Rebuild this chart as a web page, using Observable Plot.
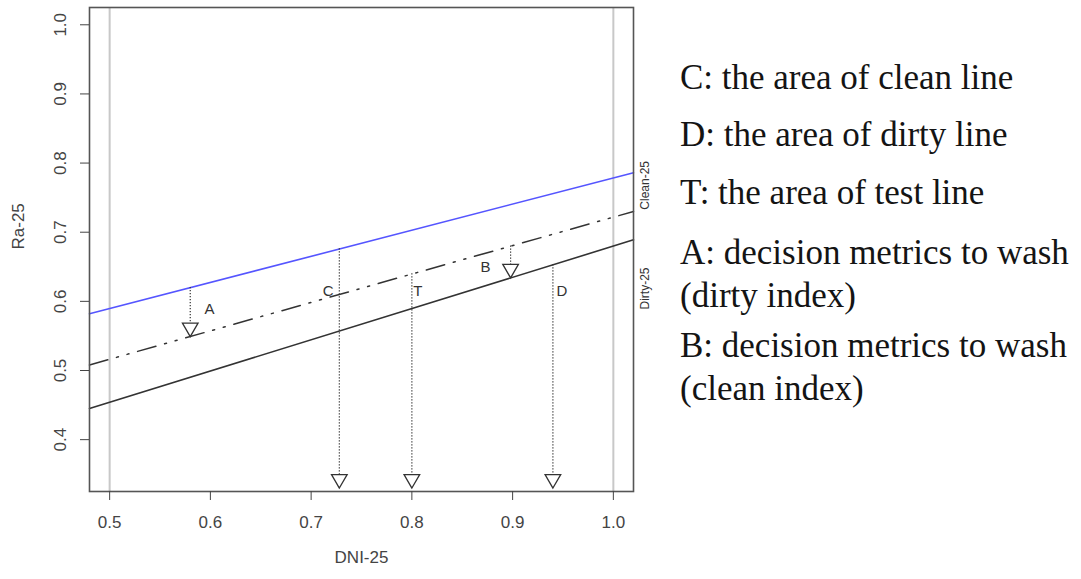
<!DOCTYPE html>
<html>
<head>
<meta charset="utf-8">
<script src="https://cdn.jsdelivr.net/npm/d3@7"></script>
<script src="https://cdn.jsdelivr.net/npm/@observablehq/plot@0.6"></script>
<style>
  html, body { margin: 0; padding: 0; background: #fff; }
  #wrap { position: relative; width: 1081px; height: 579px; overflow: hidden; }
  #chart { position: absolute; left: 0; top: 0; }
  #notes { position: absolute; left: 680px; top: 0; font-family: "Liberation Serif", "Times New Roman", serif;
           font-size: 35px; line-height: 43px; color: #141414; white-space: nowrap; }
  #notes div { position: absolute; left: 0; }
</style>
</head>
<body>
<div id="wrap">
  <div id="chart"></div>
  <div id="notes"></div>
</div>
<script>
// Axis ticks
const xTicks = [0.5, 0.6, 0.7, 0.8, 0.9, 1.0];
const yTicks = [0.4, 0.5, 0.6, 0.7, 0.8, 0.9, 1.0];

// Reference lines (values at both ends of the DNI range)
const lineX = [0.48, 1.02];
const cleanY = [0.582, 0.786];
const testY = [0.508, 0.730];
const dirtyY = [0.445, 0.689];

// Light vertical guides
const guideX = [0.5, 1.0];

// Dotted arrows: where each starts and where it ends
const arrowNames = ["A", "C", "T", "B", "D"];
const arrowX = [0.58, 0.728, 0.8, 0.898, 0.94];
const arrowFrom = [0.620, 0.676, 0.640, 0.680, 0.653];
const arrowTo = [0.549, 0.33, 0.33, 0.634, 0.33];

// Letter labels next to the arrows
const labelX = [0.599, 0.717, 0.806, 0.873, 0.949];
const labelY = [0.589, 0.615, 0.615, 0.649, 0.615];

// Line names on the right edge
const edgeNames = ["Clean-25", "Dirty-25"];
const edgeY = [0.803, 0.649];

// Explanatory notes beside the chart
const noteLines = [
  ["C: the area of clean line"],
  ["D: the area of dirty line"],
  ["T: the area of test line"],
  ["A: decision metrics to wash", "(dirty index)"],
  ["B: decision metrics to wash", "(clean index)"]
];
const noteTops = [56, 113, 171, 231, 324];

const lineRows = (ys) => lineX.map((x, i) => ({x, y: ys[i]}));
const arrows = arrowNames.map((name, i) => ({name, x: arrowX[i], from: arrowFrom[i], to: arrowTo[i]}));
const labels = arrowNames.map((name, i) => ({name, x: labelX[i], y: labelY[i]}));
const edges = edgeNames.map((name, i) => ({name, y: edgeY[i]}));

const ink = "#333";
const chart = Plot.plot({
  width: 660,
  height: 579,
  marginLeft: 89,
  marginRight: 27,
  marginTop: 7,
  marginBottom: 88,
  style: {fontFamily: "Liberation Sans, Arial, sans-serif", color: "#444", background: "white"},
  x: {domain: [0.48, 1.02]},
  y: {domain: [0.325, 1.025]},
  marks: [
    Plot.ruleX(guideX, {stroke: "#c8c8c8", strokeWidth: 2}),
    Plot.line(lineRows(cleanY), {x: "x", y: "y", stroke: "#5555ff", strokeWidth: 1.6}),
    Plot.line(lineRows(testY), {x: "x", y: "y", stroke: ink, strokeWidth: 1.5, strokeDasharray: "19,9,2,9,2,9"}),
    Plot.line(lineRows(dirtyY), {x: "x", y: "y", stroke: ink, strokeWidth: 1.6}),
    Plot.ruleX(arrows, {x: "x", y1: "from", y2: "to", stroke: ink, strokeWidth: 1.2, strokeDasharray: "1.3,1.7"}),
    Plot.dot(arrows, {x: "x", y: "to", symbol: "triangle", rotate: 180, r: 5.8, dy: -9,
                      fill: "white", stroke: ink, strokeWidth: 1.3}),
    Plot.text(labels, {x: "x", y: "y", text: "name", fontSize: 15, fill: ink}),
    Plot.text(edges, {y: "y", text: "name", frameAnchor: "right", dx: 12, rotate: -90, fontSize: 12, fill: ink}),
    Plot.frame({stroke: "#555", strokeWidth: 1.6}),
    Plot.axisX({ticks: xTicks, tickSize: 9, tickPadding: 15, tickFormat: d3.format(".1f"), fontSize: 17, label: null}),
    Plot.axisY({ticks: yTicks, tickSize: 9, tickPadding: 15, tickRotate: -90, tickFormat: d3.format(".1f"), fontSize: 17, label: null}),
    Plot.text(["Ra-25"], {frameAnchor: "left", dx: -71, rotate: -90, fontSize: 17, fill: "#444"}),
    Plot.text(["DNI-25"], {frameAnchor: "bottom", dy: 71, fontSize: 17, fill: "#444"})
  ]
});
document.getElementById("chart").appendChild(chart);

const notes = document.getElementById("notes");
noteLines.forEach((lines, i) => {
  const div = document.createElement("div");
  div.style.top = noteTops[i] + "px";
  div.innerHTML = lines.map(t => t.replace(/&/g, "&amp;").replace(/</g, "&lt;")).join("<br>");
  notes.appendChild(div);
});
</script>
</body>
</html>
